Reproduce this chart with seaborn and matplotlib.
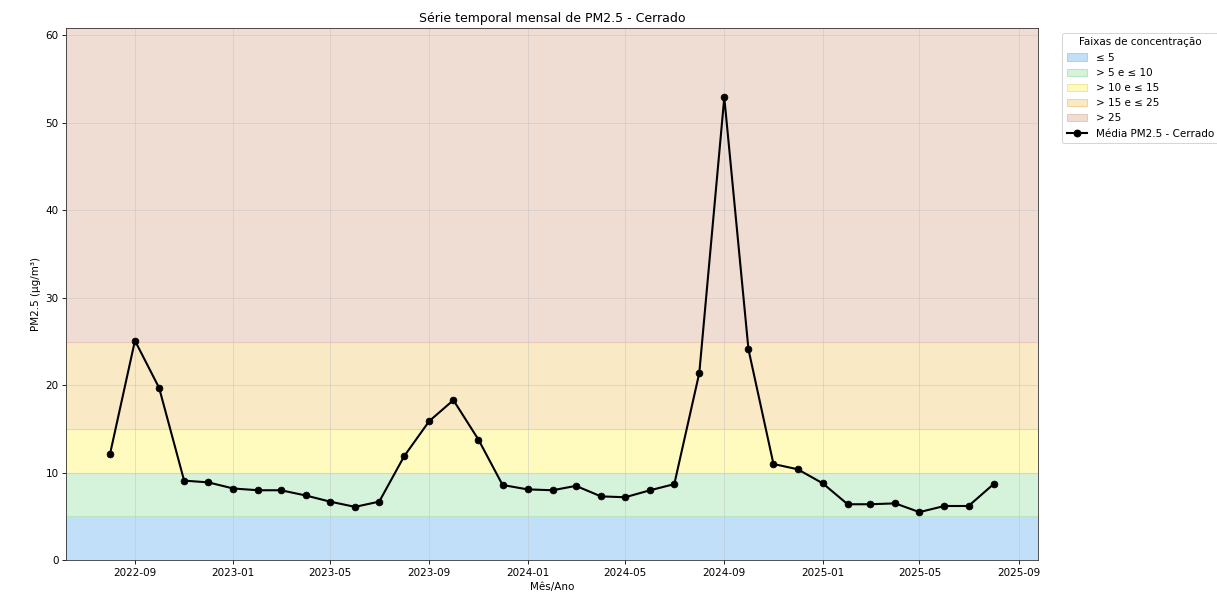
import numpy as np
import pandas as pd
import matplotlib
matplotlib.use("Agg")
import matplotlib.pyplot as plt
import matplotlib.dates as mdates
from matplotlib.patches import Patch
import seaborn as sns

# meses (início de cada mês) e médias mensais de PM2.5
meses = pd.date_range("2022-08-01", "2025-08-01", freq="MS")
pm25 = [12.1, 25.1, 19.7, 9.1, 8.9, 8.2, 8.0, 8.0, 7.4, 6.7, 6.1, 6.7,
        11.9, 15.9, 18.3, 13.8, 8.6, 8.1, 8.0, 8.5, 7.3, 7.2, 8.0, 8.7,
        21.4, 52.9, 24.1, 11.0, 10.4, 8.8, 6.4, 6.4, 6.5, 5.5, 6.2, 6.2, 8.7]

faixas_lim = [0, 5, 10, 15, 25]
faixas_nome = ["≤ 5", "> 5 e ≤ 10", "> 10 e ≤ 15", "> 15 e ≤ 25", "> 25"]
faixas_cor = ["#c2dffa", "#d5f2db", "#fffabe", "#f9e9c4", "#efdcd3"]
faixas_borda = ["#a9d3ee", "#b8e6c4", "#f5e79a", "#f2d39a", "#e8c8b8"]

df = pd.DataFrame({"Mes": meses, "PM25": pm25})

DPI = 75
fig, ax = plt.subplots(figsize=(1218 / DPI, 596 / DPI), dpi=DPI)
fig.subplots_adjust(left=0.054, right=0.852, top=0.953, bottom=0.06)

ymax = max(pm25) * 1.15
lims = faixas_lim + [ymax]
for i in range(len(faixas_nome)):
    ax.axhspan(lims[i], lims[i + 1], facecolor=faixas_cor[i],
               edgecolor=faixas_borda[i], linewidth=1)

sns.lineplot(data=df, x="Mes", y="PM25", marker="o", color="black",
             linewidth=2, markersize=6.5, markeredgecolor="black", ax=ax)

ax.set_ylim(0, ymax)
ax.grid(True, color="#bfbfbf", alpha=0.5)
ax.xaxis.set_major_locator(mdates.MonthLocator(bymonth=[1, 5, 9]))
ax.xaxis.set_major_formatter(mdates.DateFormatter("%Y-%m"))
for s in ax.spines.values():
    s.set_color("#333333")

ax.set_title("Série temporal mensal de PM2.5 - Cerrado")
ax.set_xlabel("Mês/Ano")
ax.set_ylabel("PM2.5 (µg/m³)")

handles = [Patch(facecolor=c, edgecolor=e) for c, e in zip(faixas_cor, faixas_borda)]
handles.append(plt.Line2D([], [], color="black", marker="o", linewidth=2, markersize=6.5))
labels = faixas_nome + ["Média PM2.5 - Cerrado"]
ax.legend(handles, labels, title="Faixas de concentração",
          loc="upper left", bbox_to_anchor=(1.02, 1))

plt.savefig("out.png", dpi=DPI)
